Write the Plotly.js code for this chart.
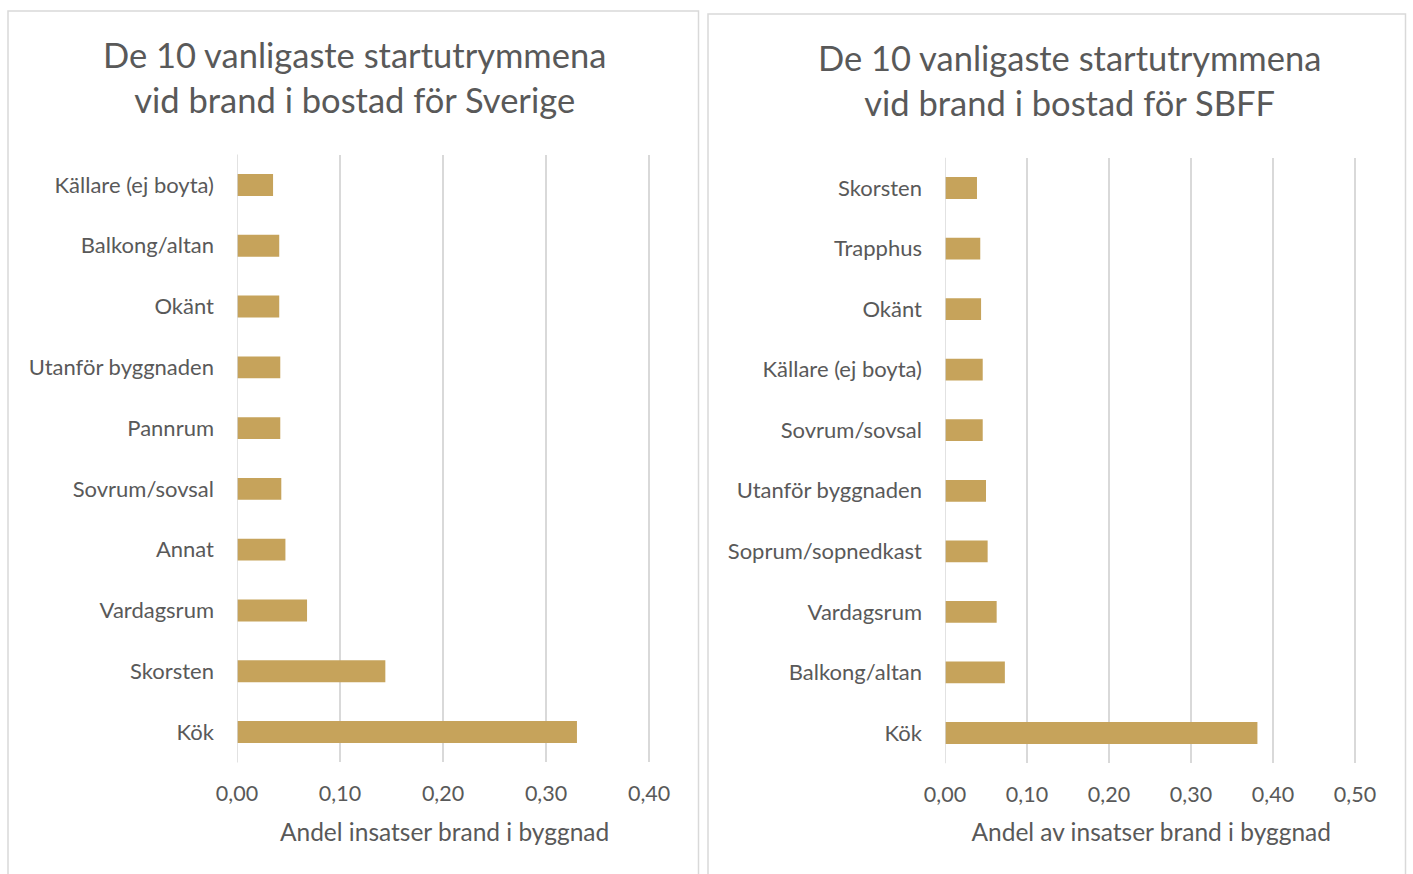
<!DOCTYPE html>
<html>
<head>
<meta charset="utf-8">
<script src="https://cdn.plot.ly/plotly-3.0.1.min.js"></script>
<style>html,body{margin:0;padding:0;background:#fff;}#chart{width:1413px;height:874px;}</style>
</head>
<body>
<div id="chart"></div>
<script>
// Left chart: Sverige
const categoriesSverige = ["Kök", "Skorsten", "Vardagsrum", "Annat", "Sovrum/sovsal", "Pannrum", "Utanför byggnaden", "Okänt", "Balkong/altan", "Källare (ej boyta)"];
const valuesSverige = [0.330, 0.144, 0.068, 0.047, 0.043, 0.042, 0.042, 0.041, 0.041, 0.035];
// Right chart: SBFF
const categoriesSBFF = ["Kök", "Balkong/altan", "Vardagsrum", "Soprum/sopnedkast", "Utanför byggnaden", "Sovrum/sovsal", "Källare (ej boyta)", "Okänt", "Trapphus", "Skorsten"];
const valuesSBFF = [0.381, 0.073, 0.063, 0.052, 0.050, 0.046, 0.046, 0.044, 0.043, 0.039];

const titleSverige = "De 10 vanligaste startutrymmena<br>vid brand i bostad för Sverige";
const titleSBFF = "De 10 vanligaste startutrymmena<br>vid brand i bostad för SBFF";
const xTitleSverige = "Andel insatser brand i byggnad";
const xTitleSBFF = "Andel av insatser brand i byggnad";
const ticksSverige = [0, 0.1, 0.2, 0.3, 0.4];
const ticksSBFF = [0, 0.1, 0.2, 0.3, 0.4, 0.5];

const FONT = "Lato, 'Open Sans', sans-serif";
const TXT = "#595959";
const GRID = "#d9d9d9";
const BAR = "#C6A35B";
const W = 1413, H = 874;
const px = x => x / W;
const py = y => 1 - y / H;

const traces = [
  {type: "bar", orientation: "h", x: valuesSverige, y: categoriesSverige, xaxis: "x", yaxis: "y",
   marker: {color: BAR, line: {width: 0}}, hoverinfo: "x+y", showlegend: false},
  {type: "bar", orientation: "h", x: valuesSBFF, y: categoriesSBFF, xaxis: "x2", yaxis: "y2",
   marker: {color: BAR, line: {width: 0}}, hoverinfo: "x+y", showlegend: false}
];

const xCommon = {
  showgrid: true, gridcolor: GRID, gridwidth: 1.5, zeroline: false, showline: false,
  ticks: "", tickformat: ".2f", tickfont: {family: FONT, size: 21.5, color: TXT},
  ticklabelstandoff: 16, fixedrange: true
};
const yCommon = {
  showgrid: false, zeroline: false, showline: false, ticks: "",
  tickfont: {family: FONT, size: 22, color: TXT}, ticklabelstandoff: 22, fixedrange: true
};

const layout = {
  width: W, height: H,
  margin: {l: 0, r: 0, t: 0, b: 0},
  paper_bgcolor: "#fff", plot_bgcolor: "rgba(0,0,0,0)",
  separators: ",.",
  bargap: 0.64,
  font: {family: FONT, color: TXT},
  xaxis: Object.assign({}, xCommon, {
    domain: [px(237), px(652.15)], range: [0, 0.403], tickvals: ticksSverige, anchor: "y",
    title: {text: xTitleSverige, font: {family: FONT, size: 24.5, color: TXT}, standoff: 18}
  }),
  yaxis: Object.assign({}, yCommon, {
    domain: [py(762.4), py(154.6)], anchor: "x"
  }),
  xaxis2: Object.assign({}, xCommon, {
    domain: [px(945), px(1357.46)], range: [0, 0.503], tickvals: ticksSBFF, anchor: "y2",
    title: {text: xTitleSBFF, font: {family: FONT, size: 24.5, color: TXT}, standoff: 18}
  }),
  yaxis2: Object.assign({}, yCommon, {
    domain: [py(763.3), py(157.7)], anchor: "x2"
  }),
  shapes: [
    // vertical axis lines (light gray like gridlines)
    {type: "line", xref: "x", yref: "y domain", x0: 0, x1: 0, y0: 0, y1: 1, line: {color: GRID, width: 1.5}},
    {type: "line", xref: "x2", yref: "y2 domain", x0: 0, x1: 0, y0: 0, y1: 1, line: {color: GRID, width: 1.5}},
    // panel borders
    {type: "rect", xref: "paper", yref: "paper", x0: px(8), x1: px(698.5), y0: py(880), y1: py(11),
     line: {color: GRID, width: 1.5}, fillcolor: "rgba(0,0,0,0)", layer: "below"},
    {type: "rect", xref: "paper", yref: "paper", x0: px(708), x1: px(1405.5), y0: py(880), y1: py(14),
     line: {color: GRID, width: 1.5}, fillcolor: "rgba(0,0,0,0)", layer: "below"}
  ],
  annotations: [
    {text: titleSverige, xref: "paper", yref: "paper", x: px(354), y: py(77), xanchor: "center", yanchor: "middle",
     showarrow: false, align: "center", font: {family: FONT, size: 34.5, color: TXT}},
    {text: titleSBFF, xref: "paper", yref: "paper", x: px(1069), y: py(80), xanchor: "center", yanchor: "middle",
     showarrow: false, align: "center", font: {family: FONT, size: 34.5, color: TXT}}
  ]
};

Plotly.newPlot("chart", traces, layout, {displayModeBar: false, staticPlot: true});
</script>
</body>
</html>
